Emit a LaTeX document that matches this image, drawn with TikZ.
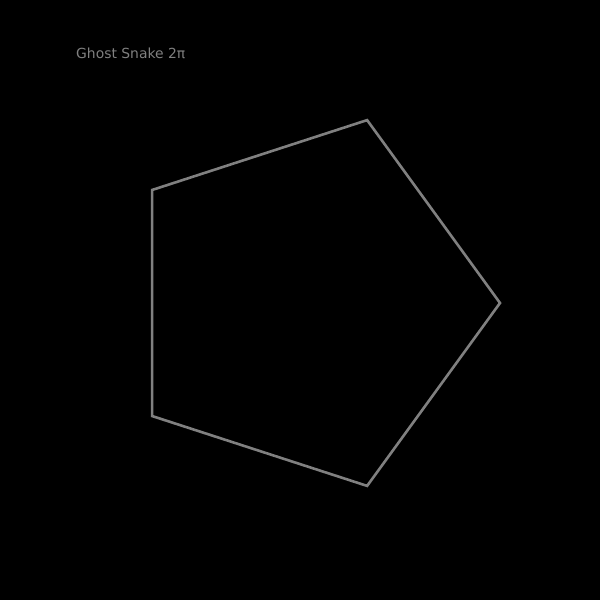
\documentclass[tikz,border=0pt]{standalone}
\usepackage{fontspec}
\setmainfont{DejaVu Sans}
\definecolor{ghost}{HTML}{808080}
\begin{document}
\begin{tikzpicture}[x=1pt,y=-1pt,
  edge/.style={draw=ghost,line width=2.6pt,line join=miter},
  title/.style={text=ghost,font=\fontsize{13.9}{16}\selectfont,anchor=west,inner sep=0pt}]
\fill[black] (0,0) rectangle (600,600);
\useasboundingbox (0,0) rectangle (600,600);
\foreach \i in {0,...,4} {
  \coordinate (v\i) at ({307.7+192.3*cos(72*\i)},{303-192.3*sin(72*\i)});
}
\draw[edge] (v0) -- (v1) -- (v2) -- (v3) -- (v4) -- cycle;
\node[title] (t) at (76,53) {Ghost Snake 2π};
\end{tikzpicture}
\end{document}
